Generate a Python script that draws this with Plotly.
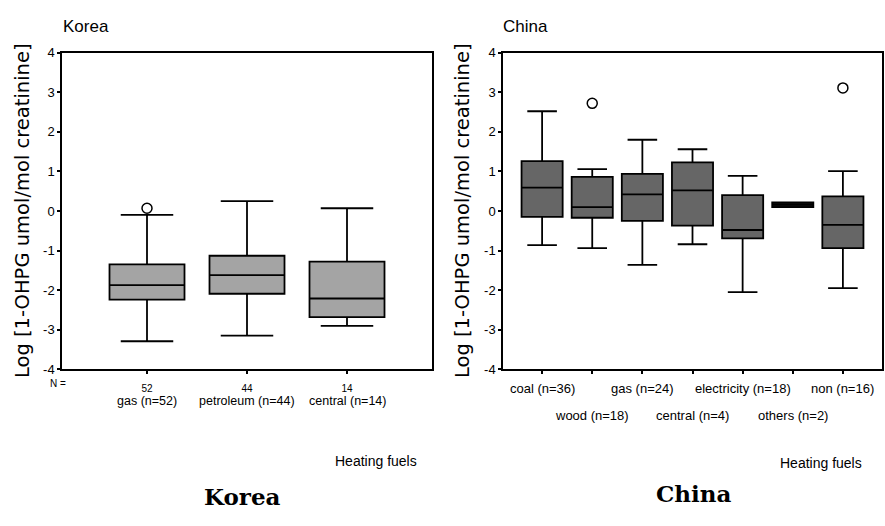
import plotly.graph_objects as go

# ---- data: log-transformed urinary 1-OHPG by heating fuel ----
korea_fuels = ["gas", "petroleum", "central"]
korea_n = [52, 44, 14]
korea_q1 = [-2.24, -2.09, -2.68]
korea_median = [-1.87, -1.62, -2.21]
korea_q3 = [-1.35, -1.13, -1.28]
korea_lower = [-3.29, -3.15, -2.90]
korea_upper = [-0.10, 0.25, 0.07]
korea_outlier_idx = [0]
korea_outlier_val = [0.07]

china_fuels = ["coal", "wood", "gas", "central", "electricity", "others", "non"]
china_n = [36, 18, 24, 4, 18, 2, 16]
china_q1 = [-0.15, -0.17, -0.25, -0.37, -0.69, 0.10, -0.94]
china_median = [0.59, 0.10, 0.42, 0.52, -0.48, 0.16, -0.35]
china_q3 = [1.26, 0.86, 0.94, 1.23, 0.40, 0.22, 0.37]
china_lower = [-0.86, -0.94, -1.36, -0.84, -2.05, 0.10, -1.95]
china_upper = [2.52, 1.06, 1.80, 1.56, 0.89, 0.22, 1.01]
china_outlier_idx = [1, 6]
china_outlier_val = [2.72, 3.11]

y_ticks = [4, 3, 2, 1, 0, -1, -2, -3, -4]
y_title = "Log [1-OHPG umol/mol creatinine]"

W, H = 885, 526
NARROW = "Liberation Sans Narrow, Arial Narrow, Liberation Sans, sans-serif"


def px_x(p):
    return p / W


def px_y(p):
    return 1 - p / H


fig = go.Figure()

# Korea boxes
for i, name in enumerate(korea_fuels):
    fig.add_trace(go.Box(
        x=[i + 1], q1=[korea_q1[i]], median=[korea_median[i]], q3=[korea_q3[i]],
        lowerfence=[korea_lower[i]], upperfence=[korea_upper[i]],
        width=0.75, whiskerwidth=0.7,
        fillcolor="#a4a4a4", line=dict(color="black", width=1.8),
        boxpoints=False, showlegend=False, hoverinfo="skip",
        xaxis="x", yaxis="y", name=name,
    ))
fig.add_trace(go.Scatter(
    x=[i + 1 for i in korea_outlier_idx], y=korea_outlier_val, mode="markers",
    marker=dict(symbol="circle-open", size=10, color="black", line=dict(width=1.5)),
    showlegend=False, hoverinfo="skip", xaxis="x", yaxis="y",
))

# China boxes
for i, name in enumerate(china_fuels):
    thin = china_q3[i] - china_q1[i] < 0.2
    fig.add_trace(go.Box(
        x=[i + 1], q1=[china_q1[i]], median=[china_median[i]], q3=[china_q3[i]],
        lowerfence=[china_lower[i]], upperfence=[china_upper[i]],
        width=0.82, whiskerwidth=0.72,
        fillcolor="#111111" if thin else "#666666",
        line=dict(color="black", width=1.8),
        boxpoints=False, showlegend=False, hoverinfo="skip",
        xaxis="x2", yaxis="y2", name=name,
    ))
fig.add_trace(go.Scatter(
    x=[i + 1 for i in china_outlier_idx], y=china_outlier_val, mode="markers",
    marker=dict(symbol="circle-open", size=10, color="black", line=dict(width=1.5)),
    showlegend=False, hoverinfo="skip", xaxis="x2", yaxis="y2",
))

yaxis_common = dict(
    range=[-4, 4], tickvals=y_ticks, ticktext=[str(v) for v in y_ticks],
    ticks="outside", ticklen=3, tickwidth=2, tickcolor="black",
    showgrid=False, zeroline=False, showline=True, mirror=True,
    linecolor="black", linewidth=1.5,
    tickfont=dict(family=NARROW, size=13, color="black"),
    domain=[px_y(373), px_y(47)],
)
xaxis_common = dict(
    showgrid=False, zeroline=False, showline=True, mirror=True,
    linecolor="black", linewidth=1.5,
    ticks="outside", ticklen=3, tickwidth=2, tickcolor="black",
)

fig.update_layout(
    width=W, height=H, margin=dict(l=0, r=0, t=0, b=0),
    paper_bgcolor="white", plot_bgcolor="white",
    xaxis=dict(xaxis_common, domain=[px_x(62), px_x(432)], range=[0.15, 3.85],
               tickvals=[1, 2, 3], ticktext=[str(n) for n in korea_n],
               ticklabelstandoff=6,
               tickfont=dict(family=NARROW, size=10, color="black")),
    yaxis=dict(yaxis_common, anchor="x"),
    xaxis2=dict(xaxis_common, domain=[px_x(503), px_x(882)], range=[0.22, 7.78],
                tickvals=list(range(1, 8)), showticklabels=False),
    yaxis2=dict(yaxis_common, anchor="x2"),
)

ann = []
# panel titles
ann.append(dict(text="Korea", x=px_x(61), y=px_y(20), xanchor="left", yanchor="middle",
                font=dict(family=NARROW, size=17, color="black")))
ann.append(dict(text="China", x=px_x(501), y=px_y(20), xanchor="left", yanchor="middle",
                font=dict(family=NARROW, size=17, color="black")))
# y-axis titles
for xc in (22, 462):
    ann.append(dict(text=y_title, x=px_x(xc), y=px_y(210), textangle=-90,
                    xanchor="center", yanchor="middle",
                    font=dict(family="DejaVu Sans", size=19.5, color="black")))
# N = label
ann.append(dict(text="N =", x=px_x(58), y=px_y(388), xanchor="center", yanchor="middle",
                font=dict(family=NARROW, size=10, color="black")))
# Korea category labels
for i, name in enumerate(korea_fuels):
    ann.append(dict(text=f"{name} (n={korea_n[i]})", x=i + 1, xref="x",
                    y=px_y(406), yref="paper", xanchor="center", yanchor="middle",
                    font=dict(family=NARROW, size=12.5, color="black")))
# China category labels, staggered over two rows
for i, name in enumerate(china_fuels):
    row_y = 393 if i % 2 == 0 else 420
    ann.append(dict(text=f"{name} (n={china_n[i]})", x=i + 1, xref="x2",
                    y=px_y(row_y), yref="paper", xanchor="center", yanchor="middle",
                    font=dict(family=NARROW, size=13, color="black")))
# x-axis titles
ann.append(dict(text="Heating fuels", x=px_x(376), y=px_y(467), xanchor="center",
                yanchor="middle", font=dict(family=NARROW, size=14, color="black")))
ann.append(dict(text="Heating fuels", x=px_x(821), y=px_y(469), xanchor="center",
                yanchor="middle", font=dict(family=NARROW, size=14, color="black")))
# captions
ann.append(dict(text="<b>Korea</b>", x=px_x(242), y=px_y(504), xanchor="center",
                yanchor="middle", font=dict(family="DejaVu Serif, serif", size=23, color="black")))
ann.append(dict(text="<b>China</b>", x=px_x(693), y=px_y(501), xanchor="center",
                yanchor="middle", font=dict(family="DejaVu Serif, serif", size=23, color="black")))

for a in ann:
    a.setdefault("xref", "paper")
    a.setdefault("yref", "paper")
    a["showarrow"] = False
fig.update_layout(annotations=ann)

fig.write_html("out.html")
